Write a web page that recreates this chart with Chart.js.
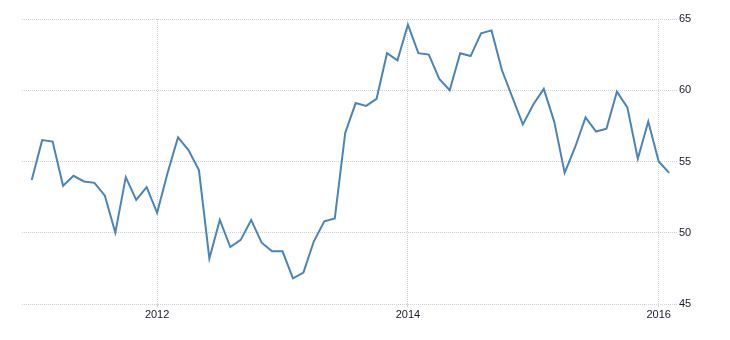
<!DOCTYPE html>
<html>
<head>
<meta charset="utf-8">
<script src="https://cdn.jsdelivr.net/npm/chart.js@4.4.1/dist/chart.umd.min.js"></script>
<style>
  html, body { margin: 0; padding: 0; background: #fff; }
  #wrap { width: 730px; height: 340px; }
</style>
</head>
<body>
<div id="wrap"><canvas id="myChart"></canvas></div>
<script>
// monthly values, Jan 2011 .. Feb 2016
const values2011 = [53.7, 56.5, 56.4, 53.3, 54.0, 53.6, 53.5, 52.6, 50.0, 53.9, 52.3, 53.2];
const values2012 = [51.4, 54.2, 56.7, 55.8, 54.4, 48.2, 50.9, 49.0, 49.5, 50.9, 49.3, 48.7];
const values2013 = [48.7, 46.8, 47.2, 49.4, 50.8, 51.0, 57.0, 59.1, 58.9, 59.4, 62.6, 62.1];
const values2014 = [64.6, 62.6, 62.5, 60.8, 60.0, 62.6, 62.4, 64.0, 64.2, 61.4, 59.5, 57.6];
const values2015 = [59.0, 60.1, 57.8, 54.2, 56.0, 58.1, 57.1, 57.3, 59.9, 58.8, 55.2, 57.8];
const values2016 = [55.0, 54.2];

const startYear = 2011;
const yearTicks = [2012, 2014, 2016];
const valueTicks = [45, 50, 55, 60, 65];

const values = [].concat(values2011, values2012, values2013, values2014, values2015, values2016);
// x = months since Jan 2011
const points = values.map((v, i) => ({ x: i, y: v }));

const tickFont = { family: 'Liberation Sans, Arial, sans-serif', size: 11 };
const gridColor = '#d0d0d0';

const ctx = document.getElementById('myChart').getContext('2d');
new Chart(ctx, {
    type: 'line',
    data: {
        datasets: [{
            data: points,
            borderColor: '#4a84b8',
            borderWidth: 2,
            pointRadius: 0,
            tension: 0,
            fill: false
        }]
    },
    options: {
        responsive: true,
        maintainAspectRatio: false,
        animation: false,
        layout: { padding: { left: 22, top: 19, right: 0, bottom: 0 } },
        plugins: {
            legend: { display: false },
            tooltip: { enabled: false }
        },
        scales: {
            x: {
                type: 'linear',
                min: -0.93,
                max: 61.75,
                afterBuildTicks: scale => {
                    scale.ticks = yearTicks.map(y => ({ value: (y - startYear) * 12 }));
                },
                afterFit: scale => { scale.height = 36; },
                ticks: {
                    callback: v => String(startYear + v / 12),
                    font: tickFont,
                    color: '#1a1a2a',
                    padding: 1,
                    maxRotation: 0
                },
                grid: {
                    color: gridColor,
                    lineWidth: 1,
                    drawTicks: true,
                    tickLength: 3
                },
                border: { display: false, dash: [1, 1] }
            },
            y: {
                position: 'right',
                min: 45,
                max: 65,
                afterBuildTicks: scale => {
                    scale.ticks = valueTicks.map(v => ({ value: v }));
                },
                afterFit: scale => { scale.width = 53; },
                ticks: {
                    font: tickFont,
                    color: '#1a1a2a',
                    padding: 2
                },
                grid: {
                    color: gridColor,
                    lineWidth: 1,
                    drawTicks: false
                },
                border: { display: false, dash: [1, 1] }
            }
        }
    }
});
</script>
</body>
</html>
